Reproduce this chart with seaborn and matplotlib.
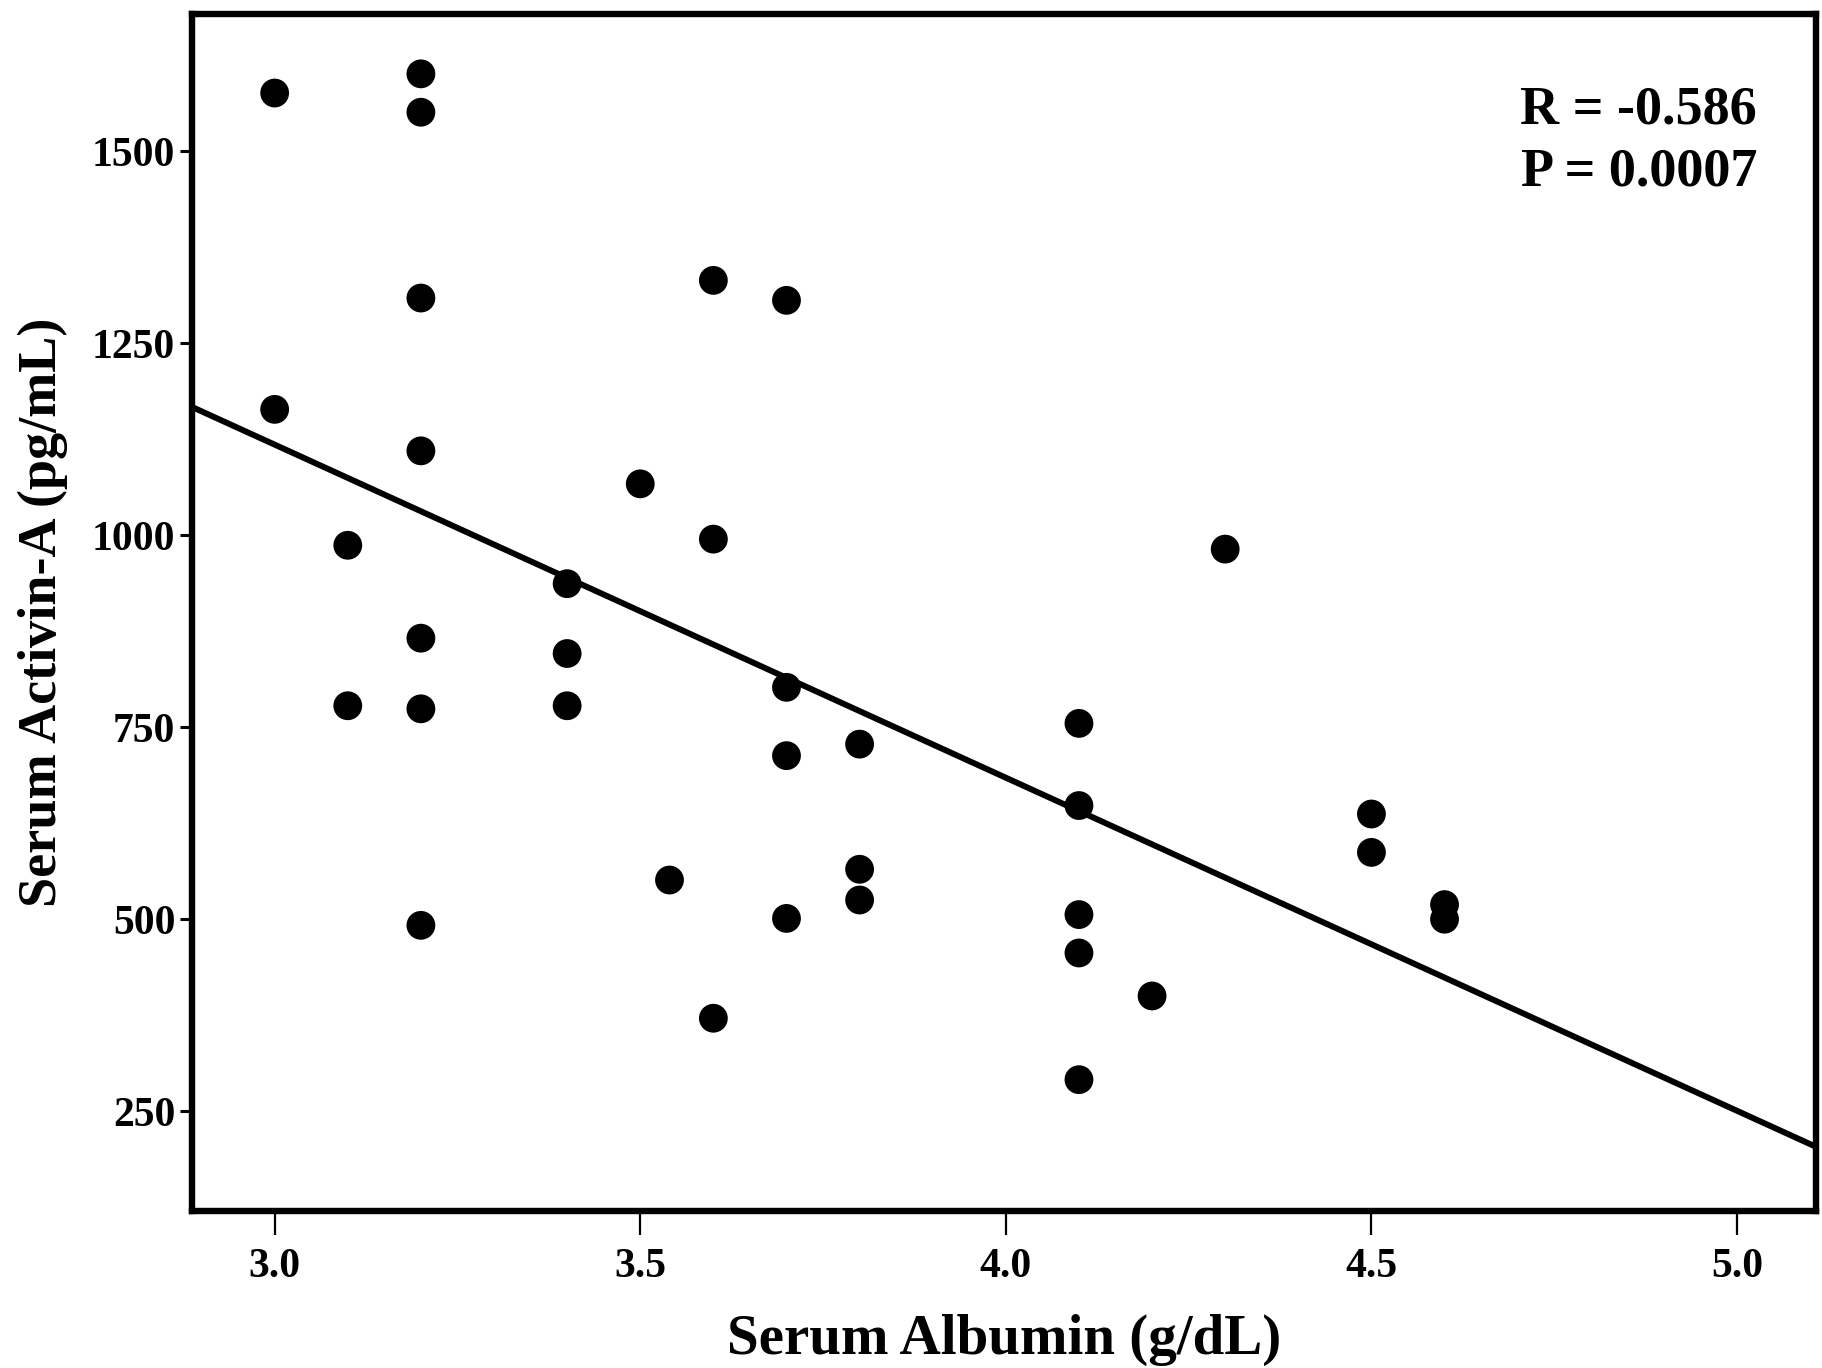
import matplotlib
matplotlib.use("Agg")
import matplotlib.pyplot as plt
import seaborn as sns
import pandas as pd

albumin = [3.0, 3.0, 3.1, 3.1, 3.2, 3.2, 3.2, 3.2, 3.2, 3.2, 3.2,
           3.4, 3.4, 3.4, 3.5, 3.54, 3.6, 3.6, 3.6, 3.7, 3.7, 3.7, 3.7,
           3.8, 3.8, 3.8, 4.1, 4.1, 4.1, 4.1, 4.1, 4.2, 4.3, 4.5, 4.5, 4.6, 4.6]
activin = [1576, 1164, 987, 778, 1601, 1551, 1309, 1110, 866, 774, 492,
           937, 846, 778, 1067, 551, 1332, 995, 371, 1306, 802, 713, 501,
           728, 565, 525, 755, 648, 506, 456, 291, 400, 982, 637, 587, 519, 500]

x_ticks = [3.0, 3.5, 4.0, 4.5, 5.0]
x_ticklabels = ["3.0", "3.5", "4.0", "4.5", "5.0"]
y_ticks = [250, 500, 750, 1000, 1250, 1500]
y_ticklabels = ["250", "500", "750", "1000", "1250", "1500"]
stats_text = "R = -0.586\nP = 0.0007"

df = pd.DataFrame({"Serum Albumin (g/dL)": albumin, "Serum Activin-A (pg/mL)": activin})

sns.set_theme(style="white")
plt.rcParams["font.family"] = ["Liberation Serif", "DejaVu Serif"]
plt.rcParams["font.weight"] = "bold"
plt.rcParams["text.color"] = "black"
plt.rcParams["axes.labelcolor"] = "black"

fig = plt.figure(figsize=(18.22, 13.68), dpi=100)
ax = fig.add_axes([0.1054, 0.1148, 0.8913, 0.875])
ax.set_xlim(2.887, 5.108)
ax.set_ylim(120, 1679)

sns.regplot(data=df, x="Serum Albumin (g/dL)", y="Serum Activin-A (pg/mL)", ax=ax,
            ci=None, truncate=False, color="black",
            scatter_kws=dict(s=430, edgecolor="none", alpha=1, zorder=3),
            line_kws=dict(linewidth=4.3, color="black", zorder=2))

ax.set_xlim(2.887, 5.108)
ax.set_ylim(120, 1679)
ax.set_xticks(x_ticks)
ax.set_xticklabels(x_ticklabels)
ax.set_yticks(y_ticks)
ax.set_yticklabels(y_ticklabels)

for s in ax.spines.values():
    s.set_visible(True)
    s.set_linewidth(4.6)
    s.set_color("black")
    s.set_zorder(4)

ax.tick_params(axis="x", direction="out", length=17, width=1.6, pad=10,
               labelsize=30, colors="black", bottom=True)
ax.tick_params(axis="y", direction="out", length=9, width=2.2, pad=3,
               labelsize=30, colors="black", left=True)
for lab in ax.get_xticklabels() + ax.get_yticklabels():
    lab.set_fontweight("bold")

ax.set_xlabel("Serum Albumin (g/dL)", fontsize=41, fontweight="bold", labelpad=20)
ax.set_ylabel("Serum Activin-A (pg/mL)", fontsize=39, fontweight="bold", labelpad=17)

ax.text(0.9637, 0.94, stats_text, transform=ax.transAxes, ha="right", va="top",
        fontsize=39, fontweight="bold", linespacing=1.3)

fig.savefig("out.png", dpi=100, facecolor="white")
